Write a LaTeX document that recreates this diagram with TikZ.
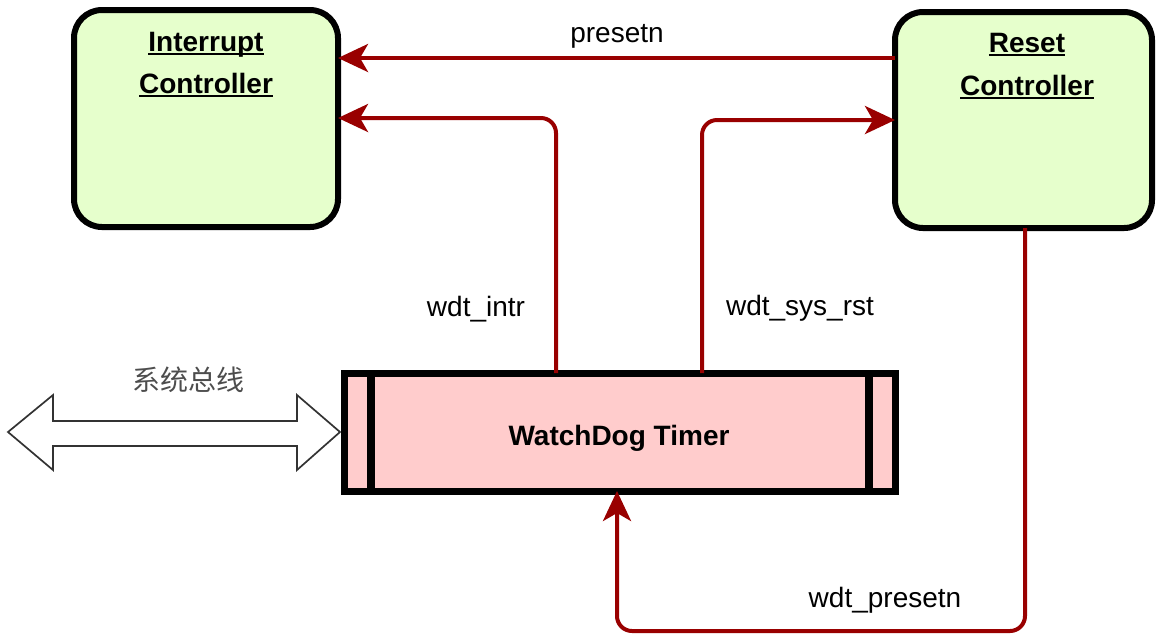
\documentclass[tikz,border=0pt]{standalone}
\usepackage{fontspec}
\setmainfont{Liberation Sans}
\newfontfamily\cjk{Noto Sans CJK SC}
\usetikzlibrary{arrows.meta}
\definecolor{boxgreen}{HTML}{E6FFCC}
\definecolor{boxpink}{HTML}{FFCCCC}
\definecolor{sigred}{HTML}{990000}
\definecolor{busgray}{HTML}{333333}
\definecolor{labelgray}{HTML}{4D4D4D}
% underline sitting just below the baseline (descenders cross it)
\newcommand\ulbox[1]{\setbox0\hbox{#1}\rlap{\rule[-2.2pt]{\wd0}{1pt}}\box0}
\begin{document}
\begin{tikzpicture}[x=0.5pt,y=-0.5pt,
  ctrl/.style={draw=black, line width=3pt, fill=boxgreen, rounded corners=14pt,
    inner sep=0pt, outer sep=0pt},
  wdtbox/.style={draw=black, line width=3.5pt, fill=boxpink, inner sep=0pt, outer sep=0pt,
    minimum width=275.5pt, minimum height=59pt},
  title/.style={font=\bfseries\fontsize{14}{17}\selectfont, anchor=base, inner sep=0pt},
  siglabel/.style={font=\fontsize{14}{17}\selectfont, anchor=base, inner sep=0pt},
  sig/.style={draw=sigred, line width=2pt, rounded corners=7.5pt,
    -{Stealth[length=15pt,width=14pt,inset=4pt]}},
]
\useasboundingbox (0,0) rectangle (1157,634);

% system bus (double block arrow)
\draw[busgray, line width=0.85pt, fill=white, line join=miter]
  (8,432) -- (53,395) -- (53,421) -- (297,421) -- (297,395) -- (340,432)
  -- (297,470) -- (297,446) -- (53,446) -- (53,470) -- cycle;
\node[font=\cjk\fontsize{14}{17}\selectfont, text=labelgray, inner sep=0pt] (bus-t) at (188,380) {系统总线};

% controllers
\node[ctrl, minimum width=132pt, minimum height=108.5pt] (ic) at (206,118.5) {};
\node[title] (ic-t1) at (206,51) {\ulbox{Interrupt}};
\node[title] (ic-t2) at (206,93) {\ulbox{Controller}};

\node[ctrl, minimum width=128.5pt, minimum height=108pt] (rc) at (1023.5,120) {};
\node[title] (rc-t1) at (1027,52) {\ulbox{Reset}};
\node[title] (rc-t2) at (1027,95) {\ulbox{Controller}};

% watchdog timer block with side bars
\node[wdtbox] (wdt) at (619.5,432) {};
\draw[line width=4pt] ([xshift=13.5pt]wdt.north west) -- ([xshift=13.5pt]wdt.south west);
\draw[line width=4pt] ([xshift=-13pt]wdt.north east) -- ([xshift=-13pt]wdt.south east);
\node[title] (wdt-t) at (619,445) {WatchDog Timer};

% routing helpers
\coordinate (y58) at (0,58);
\coordinate (y118) at (0,118);
\coordinate (y120) at (0,120);
\coordinate (y631) at (0,631);
\coordinate (x556) at (556,0);
\coordinate (x702) at (702,0);
\coordinate (x617) at (617,0);
\coordinate (x1025) at (1025,0);

% signals
\draw[sig] (rc.west |- y58) -- (ic.east |- y58);
\draw[sig] (wdt.north -| x556) |- (ic.east |- y118);
\draw[sig] (wdt.north -| x702) |- (rc.west |- y120);
\draw[sig] (rc.south -| x1025) |- (x617 |- y631) -- (wdt.south -| x617);

\node[siglabel] (l-preset) at (617,42) {presetn};
\node[siglabel] (l-intr) at (476,316) {wdt\_intr};
\node[siglabel] (l-sysrst) at (800,315) {wdt\_sys\_rst};
\node[siglabel] (l-wdtpre) at (885,607) {wdt\_presetn};
\end{tikzpicture}
\end{document}
